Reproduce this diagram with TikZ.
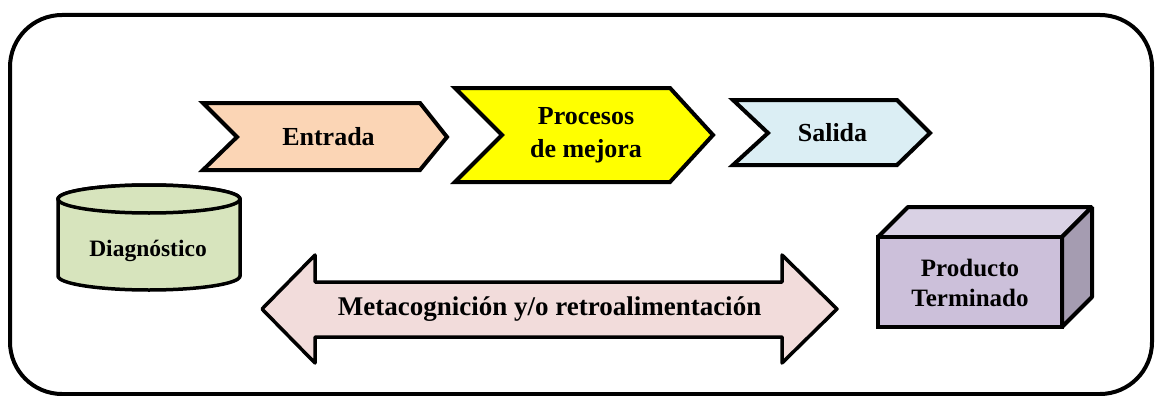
\documentclass[tikz,border=0pt]{standalone}
\usepackage{fontspec}
\setmainfont{Liberation Serif}
\usetikzlibrary{calc}
\definecolor{entradafill}{HTML}{FBD5B5}
\definecolor{procfill}{HTML}{FFFF00}
\definecolor{salidafill}{HTML}{DBEEF4}
\definecolor{diagfill}{HTML}{D7E4BD}
\definecolor{prodfront}{HTML}{CCC0DA}
\definecolor{prodtop}{HTML}{D9D1E4}
\definecolor{prodside}{HTML}{A59CB1}
\definecolor{metafill}{HTML}{F2DCDB}
\tikzset{%
  frame/.style={draw=black,line width=4pt,rounded corners=52pt},
  chev/.style={draw=black,line width=4pt,line join=miter},
  cyl/.style={draw=black,line width=3.5pt,fill=diagfill},
  cube/.style={draw=black,line width=4pt,line join=bevel},
  dblarrow/.style={draw=black,line width=3.5pt,line join=round,fill=metafill},
  txt/.style={font=\bfseries\fontsize{26}{33}\selectfont,align=center,inner sep=0}
}
\begin{document}
\begin{tikzpicture}[x=1pt,y=-1pt]
    \useasboundingbox (0,0) rectangle (1156,396);
    \path[frame] (10,15) rectangle (1152,394);
    % chevrons
    \path
      (203,103) coordinate (e1) (420,103) coordinate (e2) (447,137) coordinate (e3)
      (420,170) coordinate (e4) (203,170) coordinate (e5) (237,137) coordinate (e6)
      (455,88) coordinate (p1) (670,88) coordinate (p2) (713,135) coordinate (p3)
      (670,182) coordinate (p4) (455,182) coordinate (p5) (502,135) coordinate (p6)
      (733,100) coordinate (s1) (897,100) coordinate (s2) (930,133) coordinate (s3)
      (897,165) coordinate (s4) (733,165) coordinate (s5) (768,133) coordinate (s6);
    \draw[chev,fill=entradafill] (e1) -- (e2) -- (e3) -- (e4) -- (e5) -- (e6) -- cycle;
    \draw[chev,fill=procfill] (p1) -- (p2) -- (p3) -- (p4) -- (p5) -- (p6) -- cycle;
    \draw[chev,fill=salidafill] (s1) -- (s2) -- (s3) -- (s4) -- (s5) -- (s6) -- cycle;
    \node[txt] (entrada) at ($(e6)!.5!(e2|-e6)$) {Entrada};
    \node[txt] (procesos) at ($(p6)!.5!(p2|-p6)$) {Procesos\\de mejora};
    \node[txt] (salida) at ($(s6)!.5!(s2|-s6)$) {Salida};
    % cylinder
    \draw[cyl] (58,199) -- (58,276) arc[start angle=180,end angle=360,x radius=91pt,y radius=14pt]
      -- (240,199) arc[start angle=0,end angle=180,x radius=91pt,y radius=14pt] -- cycle;
    \draw[cyl] (149,199) ellipse [x radius=91pt,y radius=14pt];
    \node[txt,font=\bfseries\fontsize{23.5}{28}\selectfont] (diag) at (148,251) {Diagnóstico};
    % box
    \path
      (878,237) coordinate (f1) (1062,237) coordinate (f2) (1062,327) coordinate (f3) (878,327) coordinate (f4)
      (908,207) coordinate (b1) (1092,207) coordinate (b2) (1092,297) coordinate (b3);
    \draw[cube,fill=prodtop] (f1) -- (b1) -- (b2) -- (f2) -- cycle;
    \draw[cube,fill=prodside] (f2) -- (b2) -- (b3) -- (f3) -- cycle;
    \draw[cube,fill=prodfront,line join=miter] (f1) -- (f2) -- (f3) -- (f4) -- cycle;
    \node[txt,font=\bfseries\fontsize{25}{30}\selectfont] (prod) at (970,283) {Producto\\Terminado};
    % double arrow
    \path
      (262,309) coordinate (a1) (315,255) coordinate (a2) (315,282) coordinate (a3)
      (782,282) coordinate (a4) (782,255) coordinate (a5) (837,309) coordinate (a6)
      (782,363) coordinate (a7) (782,337) coordinate (a8) (315,337) coordinate (a9) (315,363) coordinate (a10);
    \draw[dblarrow] (a1) -- (a2) -- (a3) -- (a4) -- (a5) -- (a6) -- (a7) -- (a8) -- (a9) -- (a10) -- cycle;
    \node[txt,font=\bfseries\fontsize{27}{33}\selectfont] (meta) at ($(a1)!.5!(a6)$) {Metacognición y/o retroalimentación};
  \end{tikzpicture}
\end{document}
